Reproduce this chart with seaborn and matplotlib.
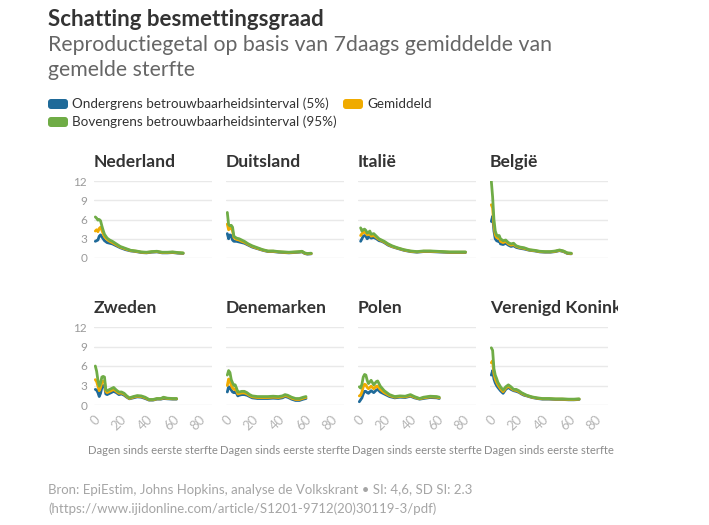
import numpy as np
import pandas as pd
import matplotlib
matplotlib.use("Agg")
import matplotlib.pyplot as plt
import seaborn as sns
from matplotlib.transforms import Bbox
from matplotlib.patches import FancyBboxPatch

sns.set_theme(style="white")
plt.rcParams['font.family'] = ['Lato', 'DejaVu Sans']

# ---------------- data ----------------
countries = ["Nederland", "Duitsland", "Italië", "België",
             "Zweden", "Denemarken", "Polen", "Verenigd Koninkrijk"]
series_names = ["Ondergrens betrouwbaarheidsinterval (5%)", "Gemiddeld",
                "Bovengrens betrouwbaarheidsinterval (95%)"]
series_colors = ["#1f6a99", "#f0ab00", "#6fac46"]

nl_days = [1, 2, 3, 4, 5, 6, 7, 8, 10, 12, 14, 17, 20, 24, 28, 32, 36, 40, 44, 48, 52, 56, 60, 64, 68]
nl_low = [2.6, 2.7, 2.8, 3.4, 3.6, 3.3, 3.0, 2.7, 2.4, 2.3, 2.2, 1.9, 1.6, 1.3, 1.1, 1.0, 0.85, 0.8, 0.9, 0.95, 0.8, 0.8, 0.85, 0.75, 0.7]
nl_mean = [4.2, 4.4, 4.1, 4.6, 4.8, 4.3, 3.8, 3.3, 2.9, 2.6, 2.4, 2.05, 1.7, 1.4, 1.15, 1.05, 0.9, 0.85, 0.95, 1.0, 0.85, 0.85, 0.9, 0.8, 0.75]
nl_high = [6.4, 6.2, 5.9, 6.0, 5.8, 5.0, 4.3, 3.7, 3.1, 2.8, 2.6, 2.2, 1.8, 1.5, 1.2, 1.1, 0.95, 0.9, 1.0, 1.05, 0.9, 0.9, 0.95, 0.85, 0.8]

de_days = [1, 2, 3, 4, 5, 6, 8, 10, 12, 14, 17, 20, 24, 28, 32, 36, 40, 44, 48, 52, 56, 58, 60, 62, 65]
de_low = [3.8, 3.0, 3.6, 3.5, 2.8, 2.6, 2.6, 2.5, 2.4, 2.3, 2.0, 1.7, 1.45, 1.2, 1.0, 1.0, 0.9, 0.85, 0.8, 0.85, 0.9, 0.95, 0.7, 0.6, 0.65]
de_mean = [5.3, 4.4, 4.6, 4.7, 4.2, 3.2, 2.9, 2.8, 2.6, 2.45, 2.1, 1.8, 1.5, 1.25, 1.05, 1.05, 0.95, 0.9, 0.85, 0.9, 0.95, 1.0, 0.75, 0.65, 0.7]
de_high = [7.1, 5.2, 5.0, 5.1, 4.8, 3.4, 3.1, 3.0, 2.8, 2.6, 2.2, 1.9, 1.6, 1.3, 1.1, 1.1, 1.0, 0.95, 0.9, 0.95, 1.0, 1.05, 0.8, 0.7, 0.75]

it_days = [2, 3, 4, 5, 6, 7, 8, 9, 10, 12, 14, 16, 18, 20, 23, 26, 30, 35, 40, 45, 50, 55, 60, 65, 70, 75, 82]
it_low = [2.6, 3.0, 3.4, 3.5, 3.4, 3.0, 3.2, 3.4, 3.1, 3.2, 3.0, 2.7, 2.6, 2.4, 2.0, 1.75, 1.5, 1.2, 1.0, 0.9, 1.0, 1.0, 0.95, 0.9, 0.85, 0.85, 0.85]
it_mean = [3.5, 3.8, 4.0, 4.0, 3.9, 3.6, 3.7, 3.8, 3.4, 3.5, 3.2, 2.9, 2.7, 2.5, 2.1, 1.8, 1.55, 1.25, 1.05, 0.95, 1.05, 1.05, 1.0, 0.95, 0.9, 0.9, 0.9]
it_high = [4.7, 4.2, 4.4, 4.5, 4.3, 3.9, 4.0, 4.2, 3.7, 3.8, 3.4, 3.0, 2.8, 2.6, 2.2, 1.9, 1.6, 1.3, 1.1, 1.0, 1.1, 1.1, 1.05, 1.0, 0.95, 0.95, 0.95]

be_days = [1, 2, 3, 4, 5, 6, 7, 8, 10, 12, 14, 16, 18, 20, 23, 26, 30, 34, 38, 42, 46, 50, 53, 56, 59, 62]
be_low = [5.7, 6.5, 4.2, 3.0, 2.7, 2.6, 2.7, 2.2, 2.1, 2.3, 2.0, 1.8, 1.9, 1.65, 1.5, 1.4, 1.2, 1.1, 0.95, 0.9, 0.9, 1.0, 1.15, 1.0, 0.7, 0.65]
be_mean = [8.3, 7.8, 5.0, 3.6, 3.2, 3.1, 3.2, 2.6, 2.4, 2.6, 2.2, 2.0, 2.1, 1.8, 1.6, 1.5, 1.25, 1.15, 1.0, 0.95, 0.95, 1.05, 1.2, 1.05, 0.75, 0.7]
be_high = [12.0, 9.5, 6.0, 4.2, 3.6, 3.4, 3.5, 3.0, 2.7, 2.8, 2.4, 2.2, 2.3, 1.9, 1.7, 1.6, 1.3, 1.2, 1.05, 1.0, 1.0, 1.1, 1.25, 1.1, 0.8, 0.75]

se_days = [1, 2, 3, 4, 5, 6, 7, 8, 9, 10, 12, 14, 15, 17, 19, 21, 23, 25, 27, 30, 33, 36, 39, 42, 45, 48, 51, 53, 56, 60, 63]
se_low = [2.4, 2.3, 1.9, 1.3, 1.8, 2.7, 3.0, 2.9, 1.7, 1.6, 1.8, 2.0, 2.1, 1.9, 1.6, 1.7, 1.5, 1.2, 0.95, 1.1, 1.25, 1.2, 1.0, 0.75, 0.75, 0.9, 0.9, 1.0, 0.95, 0.9, 0.9]
se_mean = [3.9, 3.6, 2.9, 2.2, 2.7, 3.5, 3.7, 3.6, 2.1, 1.9, 2.1, 2.3, 2.4, 2.1, 1.8, 1.85, 1.65, 1.3, 1.0, 1.2, 1.35, 1.3, 1.1, 0.8, 0.8, 0.95, 0.95, 1.1, 1.0, 0.95, 0.95]
se_high = [6.0, 5.2, 3.8, 2.9, 3.4, 4.3, 4.4, 4.3, 2.4, 2.2, 2.4, 2.6, 2.7, 2.3, 2.0, 2.0, 1.8, 1.4, 1.1, 1.3, 1.45, 1.4, 1.2, 0.85, 0.85, 1.0, 1.0, 1.2, 1.05, 1.0, 1.0]

dk_days = [1, 2, 3, 4, 5, 6, 7, 8, 9, 10, 12, 14, 16, 18, 20, 24, 28, 32, 36, 40, 43, 45, 47, 50, 53, 56, 59, 61]
dk_low = [2.0, 2.8, 2.7, 2.3, 2.0, 1.9, 2.0, 1.8, 1.4, 1.5, 1.6, 1.6, 1.5, 1.3, 1.1, 1.0, 1.0, 1.0, 1.05, 1.0, 1.1, 1.3, 1.2, 0.9, 0.7, 0.7, 0.9, 1.0]
dk_mean = [3.0, 4.0, 3.8, 3.0, 2.6, 2.4, 2.5, 2.2, 1.7, 1.75, 1.85, 1.85, 1.7, 1.45, 1.25, 1.15, 1.15, 1.15, 1.2, 1.15, 1.25, 1.45, 1.35, 1.05, 0.85, 0.85, 1.05, 1.15]
dk_high = [4.6, 5.3, 5.0, 3.9, 3.4, 3.0, 3.1, 2.6, 2.0, 2.0, 2.1, 2.1, 1.9, 1.6, 1.4, 1.3, 1.3, 1.3, 1.35, 1.3, 1.4, 1.6, 1.5, 1.2, 1.0, 1.0, 1.2, 1.3]

pl_days = [1, 2, 3, 4, 5, 6, 7, 8, 10, 12, 14, 15, 17, 20, 24, 28, 32, 36, 40, 43, 47, 50, 55, 60, 62]
pl_low = [0.5, 0.8, 1.1, 1.7, 2.1, 2.1, 1.9, 1.8, 2.2, 1.9, 2.3, 2.4, 2.0, 1.7, 1.3, 1.1, 1.2, 1.15, 1.35, 1.1, 0.9, 1.0, 1.15, 1.1, 1.0]
pl_mean = [1.4, 1.5, 2.0, 2.8, 3.2, 3.1, 2.7, 2.5, 2.9, 2.5, 2.9, 2.9, 2.4, 1.9, 1.45, 1.2, 1.3, 1.25, 1.45, 1.2, 0.95, 1.1, 1.25, 1.2, 1.1]
pl_high = [2.8, 2.6, 3.2, 4.3, 4.7, 4.6, 3.8, 3.3, 3.8, 3.1, 3.6, 3.7, 2.9, 2.2, 1.6, 1.3, 1.4, 1.35, 1.6, 1.3, 1.0, 1.2, 1.35, 1.3, 1.2]

uk_days = [1, 2, 3, 4, 5, 6, 8, 10, 12, 14, 16, 18, 20, 22, 24, 26, 28, 32, 36, 40, 45, 50, 55, 60, 64, 68]
uk_low = [4.6, 5.3, 4.0, 3.4, 3.0, 2.7, 2.2, 1.8, 2.4, 2.7, 2.4, 2.2, 2.1, 1.95, 1.7, 1.5, 1.4, 1.15, 1.0, 0.9, 0.9, 0.85, 0.85, 0.8, 0.8, 0.85]
uk_mean = [6.5, 6.8, 4.8, 4.0, 3.5, 3.1, 2.5, 2.05, 2.6, 2.9, 2.6, 2.3, 2.25, 2.05, 1.8, 1.6, 1.45, 1.2, 1.05, 0.95, 0.95, 0.9, 0.9, 0.85, 0.85, 0.9]
uk_high = [8.8, 8.4, 5.6, 4.6, 4.1, 3.5, 2.8, 2.3, 2.8, 3.1, 2.8, 2.4, 2.4, 2.2, 1.9, 1.7, 1.5, 1.25, 1.1, 1.0, 1.0, 0.95, 0.95, 0.9, 0.9, 0.95]

y_ticks = [0, 3, 6, 9, 12]
x_ticks = [0, 10, 20, 30, 40, 50, 60, 70, 80, 90]
x_ticklabels = ["0", "", "20", "", "40", "", "60", "", "80", ""]
x_label = "Dagen sinds eerste sterfte"

title = "Schatting besmettingsgraad"
subtitle = "Reproductiegetal op basis van 7daags gemiddelde van\ngemelde sterfte"
source_lines = ["Bron: EpiEstim, Johns Hopkins, analyse de Volkskrant • SI: 4,6, SD SI: 2.3",
                "(https://www.ijidonline.com/article/S1201-9712(20)30119-3/pdf)"]

country_data = {
    "Nederland": (nl_days, nl_low, nl_mean, nl_high),
    "Duitsland": (de_days, de_low, de_mean, de_high),
    "Italië": (it_days, it_low, it_mean, it_high),
    "België": (be_days, be_low, be_mean, be_high),
    "Zweden": (se_days, se_low, se_mean, se_high),
    "Denemarken": (dk_days, dk_low, dk_mean, dk_high),
    "Polen": (pl_days, pl_low, pl_mean, pl_high),
    "Verenigd Koninkrijk": (uk_days, uk_low, uk_mean, uk_high),
}

# ---------------- figure ----------------
W, H = 709, 525
fig = plt.figure(figsize=(W / 100, H / 100), dpi=100)
fig.patch.set_facecolor("white")

col_left_px = [94, 226, 358, 490]
panel_w_px = 118
rows_px = [(181, 258), (327, 405)]  # (top, bottom) in pixels from top

palette = dict(zip(series_names, series_colors))

for i, c in enumerate(countries):
    r, col = divmod(i, 4)
    top, bot = rows_px[r]
    ax = fig.add_axes([col_left_px[col] / W, 1 - bot / H, panel_w_px / W, (bot - top) / H])
    days, lo, me, hi = country_data[c]
    df = pd.concat([
        pd.DataFrame({"dag": days, "R": lo, "reeks": series_names[0]}),
        pd.DataFrame({"dag": days, "R": me, "reeks": series_names[1]}),
        pd.DataFrame({"dag": days, "R": hi, "reeks": series_names[2]}),
    ], ignore_index=True)
    sns.lineplot(data=df, x="dag", y="R", hue="reeks", hue_order=series_names,
                 palette=palette, estimator=None, linewidth=2.0, legend=False,
                 ax=ax, zorder=3)
    ax.set_xlim(0, 90)
    ax.set_ylim(0, 12)
    for s in ax.spines.values():
        s.set_visible(False)
    ax.set_yticks(y_ticks)
    ax.yaxis.grid(True, color="#e9e9e9", linewidth=1)
    ax.set_axisbelow(True)
    ax.set_xticks(x_ticks)
    ax.tick_params(axis="x", length=5, width=1, color="#e2e2e2", direction="out", pad=1)
    ax.tick_params(axis="y", length=0, pad=5, labelsize=8.5, labelcolor="#9a9a9a")
    if col == 0:
        ax.set_yticklabels([str(v) for v in y_ticks])
    else:
        ax.set_yticklabels([])
    if r == 1:
        ax.set_xticklabels(x_ticklabels, rotation=45, ha="right", rotation_mode="anchor",
                           fontsize=9.5, color="#b5b5b5")
        ax.set_xlabel(x_label, fontsize=8.1, color="#8a8a8a", labelpad=9)
    else:
        ax.set_xticklabels([])
        ax.set_xlabel("")
    ax.set_ylabel("")
    t = ax.set_title(c, loc="left", fontsize=12.6, fontweight="bold", color="#333333", pad=10)
    t.set_clip_box(Bbox.from_extents(0, 0, 618, H))
    t.set_clip_on(True)

# ---------------- header ----------------
fig.text(48 / W, 1 - 9 / H, title, fontsize=16, fontweight="bold", color="#333333",
         va="top", ha="left")
fig.text(48 / W, 1 - 35 / H, subtitle, fontsize=15.3, color="#666666",
         va="top", ha="left", linespacing=1.32)

# legend (manual, rounded swatches)
leg_items = [(48, 104, series_names[0], series_colors[0]),
             (343, 104, series_names[1], series_colors[1]),
             (48, 122, series_names[2], series_colors[2])]
for x, y, lab, colr in leg_items:
    p = FancyBboxPatch((x, H - y - 5), 20, 10, boxstyle="round,pad=0,rounding_size=3",
                       transform=None, facecolor=colr, edgecolor="none")
    fig.add_artist(p)
    fig.text((x + 24) / W, 1 - y / H, lab, fontsize=9.7, color="#333333",
             va="center", ha="left")

# ---------------- footer ----------------
fig.text(48 / W, 1 - 490 / H, source_lines[0], fontsize=9.5, color="#a5a5a5",
         va="center", ha="left")
fig.text(48 / W, 1 - 509 / H, source_lines[1], fontsize=9.5, color="#a5a5a5",
         va="center", ha="left")

fig.savefig("out.png", dpi=100, facecolor="white")
